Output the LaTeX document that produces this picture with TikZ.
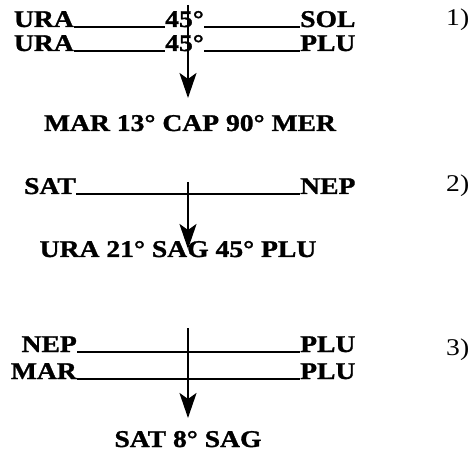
\documentclass[tikz,border=0pt]{standalone}
\usepackage{fontspec}
\setmainfont{Liberation Serif}[FakeStretch=1.15,BoldFeatures={FakeBold=1.2}]
\usetikzlibrary{arrows.meta}
\begin{document}
\begin{tikzpicture}[x=1pt,y=-1pt,
  lab/.style={inner sep=0pt,font=\fontsize{24}{26}\selectfont\bfseries},
  num/.style={inner sep=0pt,font=\fontsize{24}{26}\selectfont},
  rule/.style={line width=1.7pt},
  down/.style={line width=2.6pt,-{Stealth[length=25pt,width=17pt,inset=6pt]}}]
\useasboundingbox (0,0) rectangle (471,454);
% ---- 1 ----
\node[lab,anchor=base east] (u1) at (74,27) {URA};
\node[lab,anchor=base west] (d1) at (165,27) {45°};
\node[lab,anchor=base west] (s1) at (300,27) {SOL};
\node[lab,anchor=base east] (u2) at (74,51) {URA};
\node[lab,anchor=base west] (d2) at (165,51) {45°};
\node[lab,anchor=base west] (p1) at (300,51) {PLU};
\node[num,anchor=base west] (n1) at (446,26) {1)};
\draw[rule] (u1.base east) -- (d1.base west);
\draw[rule] (d1.base east) -- (s1.base west);
\draw[rule] (u2.base east) -- (d2.base west);
\draw[rule] (d2.base east) -- (p1.base west);
\coordinate (a1s) at (188,5);
\coordinate (a1e) at (188,98);
\draw[down] (a1s) -- (a1e);
\node[lab,anchor=base] (r1) at (190,131) {MAR 13° CAP 90° MER};
% ---- 2 ----
\node[lab,anchor=base east] (sat) at (76,194) {SAT};
\node[lab,anchor=base west] (nep) at (300,194) {NEP};
\node[num,anchor=base west] (n2) at (446,192) {2)};
\draw[rule] (sat.base east) -- (nep.base west);
\coordinate (a2s) at (188,182);
\coordinate (a2e) at (188,249);
\draw[down] (a2s) -- (a2e);
\node[lab,anchor=base] (r2) at (178,257) {URA 21° SAG 45° PLU};
% ---- 3 ----
\node[lab,anchor=base east] (nep3) at (77,352) {NEP};
\node[lab,anchor=base west] (plu3) at (300,352) {PLU};
\node[lab,anchor=base east] (mar3) at (77,379) {MAR};
\node[lab,anchor=base west] (plu4) at (300,379) {PLU};
\node[num,anchor=base west] (n3) at (446,355) {3)};
\draw[rule] (nep3.base east) -- (plu3.base west);
\draw[rule] (mar3.base east) -- (plu4.base west);
\coordinate (a3s) at (188,328);
\coordinate (a3e) at (188,418);
\draw[down] (a3s) -- (a3e);
\node[lab,anchor=base] (r3) at (188,447) {SAT 8° SAG};
\end{tikzpicture}
\end{document}
